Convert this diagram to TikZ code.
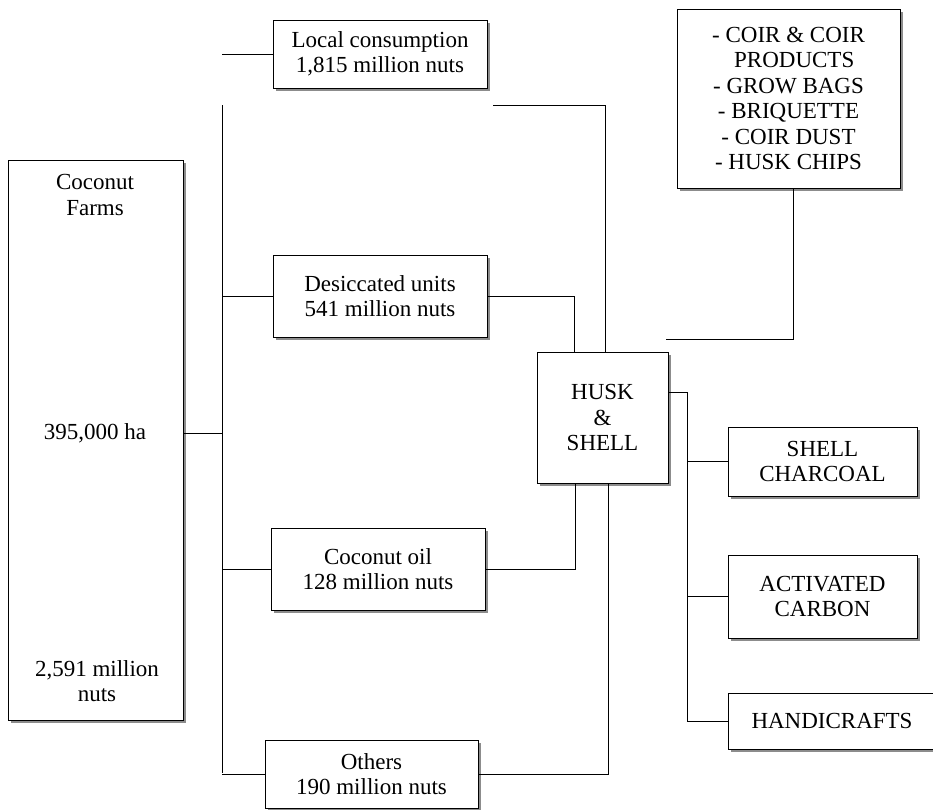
\documentclass[tikz,border=0pt]{standalone}
\usepackage{fontspec}
\setmainfont{Liberation Serif}
\usetikzlibrary{shadows}
\begin{document}
\begin{tikzpicture}[x=1pt,y=-1pt,
    every node/.style={font=\fontsize{23}{25.5}\selectfont, inner sep=0pt, align=center},
    flowbox/.style={draw, fill=white, line width=0.9pt,
        drop shadow={shadow xshift=3pt, shadow yshift=-3pt, fill=black!45, opacity=1}},
    link/.style={line width=0.9pt}]
            \useasboundingbox (0,0) rectangle (933,809);
            \clip (0,0) rectangle (933,809);

            \node [flowbox, minimum width=175pt, minimum height=560pt] (farms) at (95.5,440) {};
            \node (farmstitle) at (95,195) {Coconut\\Farms};
            \node (farmsarea) at (95,433) {395,000 ha};
            \node (farmsnuts) at (97,681) {2,591 million\\nuts};

            \node [flowbox, minimum width=214pt, minimum height=68pt] (local) at (380,54) {Local consumption\\1,815 million nuts};
            \node [flowbox, minimum width=214pt, minimum height=82pt] (desic) at (380,296) {Desiccated units\\541 million nuts};
            \node [flowbox, minimum width=214pt, minimum height=82pt] (oil) at (378,569) {Coconut oil\\128 million nuts};
            \node [flowbox, minimum width=213pt, minimum height=68pt] (others) at (371.5,774) {Others\\190 million nuts};

            \node [flowbox, minimum width=131pt, minimum height=131pt] (husk) at (602.5,417.5) {HUSK\\\&\\SHELL};

            \node [flowbox, minimum width=223pt, minimum height=179pt] (coir) at (788.5,98.5) {- COIR \& COIR\\\ \ PRODUCTS\\- GROW BAGS\\- BRIQUETTE\\- COIR DUST\\- HUSK CHIPS};
            \node [flowbox, minimum width=189pt, minimum height=69pt] (charcoal) at (822.5,461.5) {SHELL\\CHARCOAL};
            \node [flowbox, minimum width=189pt, minimum height=83pt] (carbon) at (822.5,596.5) {ACTIVATED\\CARBON};
            \node [flowbox, minimum width=208pt, minimum height=56pt] (handi) at (832,721) {HANDICRAFTS};

            \coordinate (trunktop) at (222,105);
            \coordinate (trunkbot) at (222,773);
            \coordinate (topstart) at (493,105);
            \coordinate (branchtop) at (687,392);
            \coordinate (branchbot) at (687,721);
            \coordinate (coirend) at (666,339);

            \draw [link] (trunktop) -- (trunkbot);
            \draw [link] (farms.east |- farmsarea) -- (farmsarea -| trunktop);
            \draw [link] (local.west) -- (local.west -| trunktop);
            \draw [link] (desic.west) -- (desic.west -| trunktop);
            \draw [link] (oil.west) -- (oil.west -| trunktop);
            \draw [link] (others.west) -- (others.west -| trunktop);

            \draw [link] (topstart) -| ([xshift=2.5pt]husk.north);
            \draw [link] (desic.east) -| ([xshift=-28pt]husk.north);
            \draw [link] (oil.east) -| ([xshift=-27pt]husk.south);
            \draw [link] (others.east) -| ([xshift=5.5pt]husk.south);

            \draw [link] ([yshift=25.5pt]husk.east) -- (branchtop) -- (branchbot);
            \draw [link] (charcoal.west) -- (charcoal.west -| branchtop);
            \draw [link] (carbon.west) -- (carbon.west -| branchtop);
            \draw [link] (handi.west) -- (handi.west -| branchtop);

            \draw [link] ([xshift=4.5pt]coir.south) |- (coirend);
\end{tikzpicture}
\end{document}
